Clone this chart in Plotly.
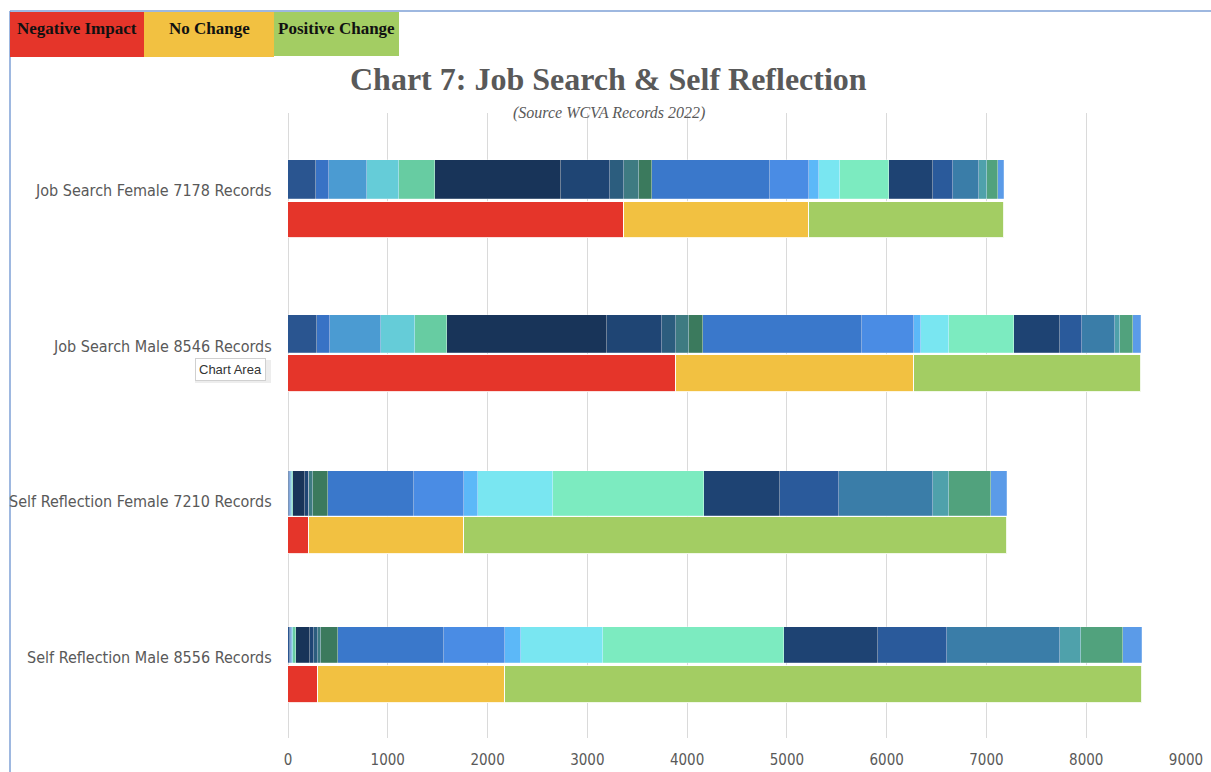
import plotly.graph_objects as go

# ---- data -------------------------------------------------------------
categories = [
    "Job Search Female 7178 Records",
    "Job Search Male 8546 Records",
    "Self Reflection Female 7210 Records",
    "Self Reflection Male 8556 Records",
]

# summary outcome per group
negative_impact = [3367, 3888, 213, 297]
no_change = [1851, 2385, 1551, 1877]
positive_change = [1960, 2273, 5446, 6382]

# detailed breakdown (21 response parts) per group
job_search_female = [278, 136, 381, 320, 361, 1259, 491, 141, 150, 133, 1180,
                     388, 103, 210, 488, 447, 200, 255, 80, 110, 67]
job_search_male = [288, 136, 505, 344, 323, 1603, 545, 144, 133, 134, 1599,
                   519, 67, 286, 651, 465, 217, 328, 50, 133, 76]
self_reflection_female = [10, 8, 12, 10, 13, 117, 38, 5, 41, 150, 859,
                          501, 143, 745, 1519, 759, 594, 936, 160, 421, 169]
self_reflection_male = [20, 15, 10, 8, 24, 143, 44, 33, 31, 176, 1062,
                        608, 158, 821, 1820, 936, 691, 1142, 201, 427, 186]

x_ticks = [0, 1000, 2000, 3000, 4000, 5000, 6000, 7000, 8000, 9000]

# ---- styling / layout constants --------------------------------------
part_colors = [
    "#2A5590", "#3872C5", "#4B9BD2", "#65CCD8", "#67CCA2",
    "#183459", "#1F4574", "#2C5D7E", "#3E7B82", "#3B7A5D",
    "#3A78CB", "#4A8CE4", "#5CB8F8", "#79E6F1", "#7CEBC0",
    "#1E4373", "#2A5A9B", "#3A7DA8", "#4FA1AB", "#51A27D",
    "#5B9BE8",
]
RED, YELLOW, GREEN = "#E5352A", "#F2C141", "#A3CD63"

FIG_W, FIG_H = 1211, 772
L, R, T, B = 288, 25, 113, 738          # plot area edges in pixels
W, H = FIG_W - L - R, B - T

# vertical placement of the bars (y axis runs in screen units, top -> bottom)
top_center = [179.5, 334, 493.5, 645]
top_width = [39, 38, 45, 36]
bottom_center = [220, 373.5, 535.5, 684.5]
bottom_width = [36, 37, 37, 37]
label_y = [190, 346, 501, 657]


def px_x(px):
    return (px - L) / W


def px_y(py):
    return (B - py) / H


LABEL_FONT = "Liberation Sans Narrow, DejaVu Sans Condensed, Liberation Sans, sans-serif"
SERIF_FONT = "Liberation Serif, DejaVu Serif, serif"

fig = go.Figure()

rows = [job_search_female, job_search_male, self_reflection_female, self_reflection_male]
for k, color in enumerate(part_colors):
    fig.add_trace(go.Bar(
        x=[row[k] for row in rows],
        y=top_center,
        width=top_width,
        orientation="h",
        marker=dict(color=color, line=dict(color="rgba(255,255,255,0.35)", width=0.6)),
        showlegend=False,
        hoverinfo="x",
    ))

for name, vals, color in [("Negative Impact", negative_impact, RED),
                          ("No Change", no_change, YELLOW),
                          ("Positive Change", positive_change, GREEN)]:
    fig.add_trace(go.Bar(
        x=vals,
        y=bottom_center,
        width=bottom_width,
        orientation="h",
        name=name,
        marker=dict(color=color, line=dict(color="rgba(255,255,255,0.85)", width=1)),
        showlegend=False,
    ))

annotations = []
for cat, yy in zip(categories, label_y):
    annotations.append(dict(
        text=cat, xref="paper", yref="y", x=px_x(274), y=yy,
        xanchor="right", yanchor="middle", showarrow=False,
        font=dict(family=LABEL_FONT, size=16, color="#595959"),
    ))

# title and source line
annotations.append(dict(
    text="<b>Chart 7: Job Search &amp; Self Reflection</b>",
    xref="paper", yref="paper", x=px_x(608), y=px_y(79),
    xanchor="center", yanchor="middle", showarrow=False,
    font=dict(family=SERIF_FONT, size=32, color="#595959"),
))
annotations.append(dict(
    text="<i>(Source WCVA Records 2022)</i>",
    xref="paper", yref="paper", x=px_x(609), y=px_y(113),
    xanchor="center", yanchor="middle", showarrow=False,
    font=dict(family=SERIF_FONT, size=16, color="#595959"),
))

# colour key boxes in the top-left corner
shapes = []
key = [("Negative Impact", RED, 10, 144, 57),
       ("No Change", YELLOW, 144, 274, 57),
       ("Positive Change", GREEN, 274, 399, 56)]
for label, color, x0, x1, y1 in key:
    shapes.append(dict(type="rect", xref="paper", yref="paper",
                       x0=px_x(x0), x1=px_x(x1), y0=px_y(y1), y1=px_y(12),
                       fillcolor=color, line=dict(width=0), layer="above"))
    annotations.append(dict(
        text="<b>%s</b>" % label, xref="paper", yref="paper",
        x=px_x((x0 + x1) / 2), y=px_y(28), xanchor="center", yanchor="middle",
        showarrow=False, font=dict(family=SERIF_FONT, size=17, color="#111111"),
    ))

# chart frame (left and top edges)
shapes.append(dict(type="line", xref="paper", yref="paper",
                   x0=px_x(10), x1=px_x(10), y0=px_y(780), y1=px_y(11),
                   line=dict(color="#7EA1D6", width=1.5), layer="below"))
shapes.append(dict(type="line", xref="paper", yref="paper",
                   x0=px_x(10), x1=px_x(1215), y0=px_y(11), y1=px_y(11),
                   line=dict(color="#7EA1D6", width=1.5), layer="below"))

# hover tip over the chart area
shapes.append(dict(type="rect", xref="paper", yref="paper",
                   x0=px_x(195), x1=px_x(271), y0=px_y(383), y1=px_y(360),
                   fillcolor="rgba(0,0,0,0.07)", line=dict(width=0), layer="above"))
annotations.append(dict(
    text="Chart Area", xref="paper", yref="paper", x=px_x(230), y=px_y(369),
    xanchor="center", yanchor="middle", showarrow=False,
    font=dict(family="Liberation Sans, Arial, sans-serif", size=13, color="#333333"),
    bgcolor="white", bordercolor="#d0d0d0", borderwidth=1, borderpad=3,
))

fig.update_layout(
    width=FIG_W, height=FIG_H,
    margin=dict(l=L, r=R, t=T, b=FIG_H - B),
    barmode="stack",
    bargap=0,
    paper_bgcolor="white", plot_bgcolor="white",
    showlegend=False,
    xaxis=dict(range=[0, 9000], tickvals=x_ticks, ticktext=[str(v) for v in x_ticks],
               showgrid=True, gridcolor="#DADADA", gridwidth=1,
               zeroline=True, zerolinecolor="#DADADA", zerolinewidth=1,
               showline=False, ticks="", ticklabelstandoff=11, automargin=False,
               tickfont=dict(family=LABEL_FONT, size=15, color="#595959")),
    yaxis=dict(range=[B, T], showticklabels=False, showgrid=False, automargin=False,
               zeroline=False, showline=False, ticks=""),
    annotations=annotations,
    shapes=shapes,
)

fig.write_html("out.html")
